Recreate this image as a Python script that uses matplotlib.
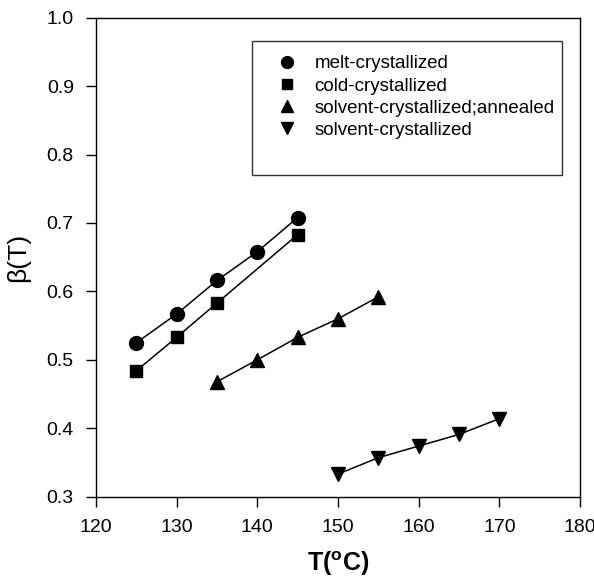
import matplotlib
matplotlib.use("Agg")
import matplotlib.pyplot as plt
from matplotlib.lines import Line2D

plt.rcParams['font.family'] = ['Liberation Sans', 'DejaVu Sans']

# --- data ---
t_melt = [125, 130, 135, 140, 145]
b_melt = [0.525, 0.567, 0.616, 0.658, 0.708]

t_cold = [125, 130, 135, 145]
b_cold = [0.484, 0.533, 0.583, 0.683]

t_ann = [135, 140, 145, 150, 155]
b_ann = [0.468, 0.500, 0.533, 0.560, 0.592]

t_solv = [150, 155, 160, 165, 170]
b_solv = [0.333, 0.357, 0.374, 0.391, 0.414]

labels = ['melt-crystallized', 'cold-crystallized',
          'solvent-crystallized;annealed', 'solvent-crystallized']

fig = plt.figure(figsize=(5.94, 5.81), dpi=100)
ax = fig.add_axes([0.1616, 0.1451, 0.8148, 0.8244])

series = [(t_melt, b_melt, 'o', 10), (t_cold, b_cold, 's', 9),
          (t_ann, b_ann, '^', 10), (t_solv, b_solv, 'v', 10)]
handles = []
for (t, b, m, ms), lab in zip(series, labels):
    ax.plot(t, b, color='black', lw=1.1)
    h, = ax.plot(t, b, linestyle='none', marker=m, ms=ms, color='black', label=lab)
    handles.append(h)

ax.set_xlim(120, 180)
ax.set_ylim(0.3, 1.0)
ax.set_xticks(range(120, 181, 10))
ax.set_yticks([0.3, 0.4, 0.5, 0.6, 0.7, 0.8, 0.9, 1.0])
ax.tick_params(direction='out', length=7, width=1, labelsize=14, pad=9)
for s in ax.spines.values():
    s.set_linewidth(1)

ax.set_xlabel('T($\\mathregular{^oC}$)', fontsize=18, fontweight='bold', labelpad=10)
ax.set_ylabel('β(T)', fontsize=19, labelpad=12)

# blank last row keeps the empty space at the bottom of the box
blank = Line2D([], [], linestyle='none', marker='none')
leg = ax.legend(handles + [blank], labels + [' '], loc='upper left',
                bbox_to_anchor=(0.322, 0.951, 0.640, 0.0), mode='expand',
                fontsize=13.5, frameon=True, fancybox=False, edgecolor='black',
                handlelength=2.2, handletextpad=0.4, labelspacing=0.27,
                borderpad=0.75, borderaxespad=0, markerscale=0.85)
leg.get_frame().set_linewidth(1)

fig.savefig('out.png', dpi=100)
